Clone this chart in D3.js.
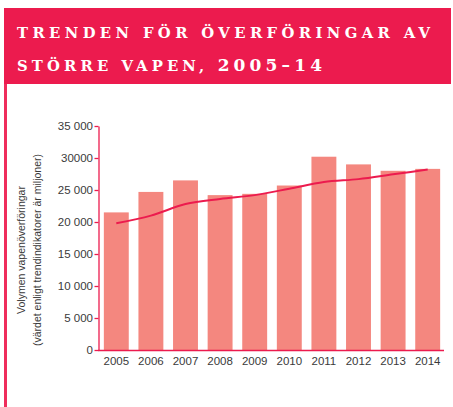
<!DOCTYPE html>
<html>
<head>
<meta charset="utf-8">
<script src="https://cdn.jsdelivr.net/npm/d3@7"></script>
<style>
  body { margin: 0; background: #fff; }
  svg { display: block; }
</style>
</head>
<body>
<div id="chart"></div>
<script>
// data
const years = ["2005", "2006", "2007", "2008", "2009", "2010", "2011", "2012", "2013", "2014"];
const volumes = [21500, 24700, 26500, 24200, 24400, 25700, 30200, 29000, 28000, 28300];
const trend = [19800, 21000, 22800, 23600, 24200, 25200, 26250, 26700, 27450, 28200];
const yTicks = [0, 5000, 10000, 15000, 20000, 25000, 30000, 35000];
const yTickLabels = ["0", "5 000", "10 000", "15 000", "20 000", "25 000", "30000", "35 000"];
const titleLines = ["TRENDEN FÖR ÖVERFÖRINGAR AV", "STÖRRE VAPEN, 2005–14"];
const yTitleLines = ["Volymen vapenöverföringar", "(värdet enligt trendindikatorer är miljoner)"];

function chart() {
  var w = 453;
  var h = 407;
  var red = "#ec1b4e";
  var barColor = "#f4877f";
  var textColor = "#3a3a3a";

  var svg = d3
    .select("#chart")
    .append("svg")
    .attr("width", w)
    .attr("height", h);

  // header band + left border
  svg.append("rect")
    .attr("x", 4).attr("y", 8)
    .attr("width", 447).attr("height", 76)
    .attr("fill", red);
  svg.append("rect")
    .attr("x", 4).attr("y", 84)
    .attr("width", 3).attr("height", h - 84)
    .attr("fill", "#ef2d5c");

  // title, small caps look: letters smaller, digits full size
  var titleBase = [37.5, 70.5];
  var titleWidth = [413, 305];
  titleLines.forEach((line, i) => {
    var t = svg.append("text")
      .attr("x", 17)
      .attr("y", titleBase[i])
      .attr("fill", "#fff")
      .attr("font-family", "'DejaVu Serif', 'Liberation Serif', serif")
      .attr("font-weight", "bold")
      .attr("textLength", titleWidth[i])
      .attr("lengthAdjust", "spacing");
    // split into runs of digits and non-digits
    line.match(/[0-9–]+|[^0-9–]+/g).forEach((run) => {
      t.append("tspan")
        .attr("font-size", /[0-9]/.test(run) ? 17 : 14.8)
        .text(run);
    });
  });

  // scales
  var x = d3.scaleBand()
    .domain(years)
    .range([99, 445])
    .paddingInner(0.28)
    .paddingOuter(0.14);

  var y = d3.scaleLinear()
    .domain([0, 35000])
    .range([350, 126]);

  var g = svg.append("g");

  // bars
  g.append("g")
    .selectAll("rect")
    .data(years)
    .enter()
    .append("rect")
    .attr("x", (d) => x(d))
    .attr("y", (d, i) => y(volumes[i]))
    .attr("width", x.bandwidth())
    .attr("height", (d, i) => y(0) - y(volumes[i]))
    .attr("fill", barColor);

  // trend line
  var line = d3.line()
    .x((d, i) => x(years[i]) + x.bandwidth() / 2)
    .y((d) => y(d))
    .curve(d3.curveMonotoneX);

  g.append("path")
    .datum(trend)
    .attr("d", line)
    .attr("fill", "none")
    .attr("stroke", red)
    .attr("stroke-width", 2);

  // y axis
  var yAxis = g.append("g")
    .attr("transform", "translate(98.5,0)")
    .call(
      d3.axisLeft(y)
        .tickValues(yTicks)
        .tickFormat((d, i) => yTickLabels[i])
        .tickSize(4)
        .tickSizeOuter(0)
        .tickPadding(1.5)
    );
  yAxis.selectAll("path, line").attr("stroke", red).attr("stroke-width", 1.3);
  yAxis.selectAll("text")
    .attr("fill", textColor)
    .attr("font-family", "'Liberation Sans', Arial, sans-serif")
    .attr("font-size", 11.5);

  // x axis: base line and year labels
  g.append("line")
    .attr("x1", 98).attr("x2", 444)
    .attr("y1", y(0) + 0.5).attr("y2", y(0) + 0.5)
    .attr("stroke", red)
    .attr("stroke-width", 1.3);

  g.append("g")
    .selectAll("text")
    .data(years)
    .enter()
    .append("text")
    .attr("x", (d) => x(d) + x.bandwidth() / 2)
    .attr("y", 365)
    .attr("text-anchor", "middle")
    .attr("fill", textColor)
    .attr("font-family", "'Liberation Sans', Arial, sans-serif")
    .attr("font-size", 11.5)
    .text((d) => d);

  // y title, two rotated lines
  var yTitle = svg.append("text")
    .attr("transform", "translate(25,250) rotate(-90)")
    .attr("text-anchor", "middle")
    .attr("fill", textColor)
    .attr("font-family", "'Liberation Sans', Arial, sans-serif")
    .attr("font-size", 10.5);
  yTitleLines.forEach((l, i) => {
    yTitle.append("tspan")
      .attr("x", 0)
      .attr("y", i * 15.5)
      .text(l);
  });
}

chart();
</script>
</body>
</html>
